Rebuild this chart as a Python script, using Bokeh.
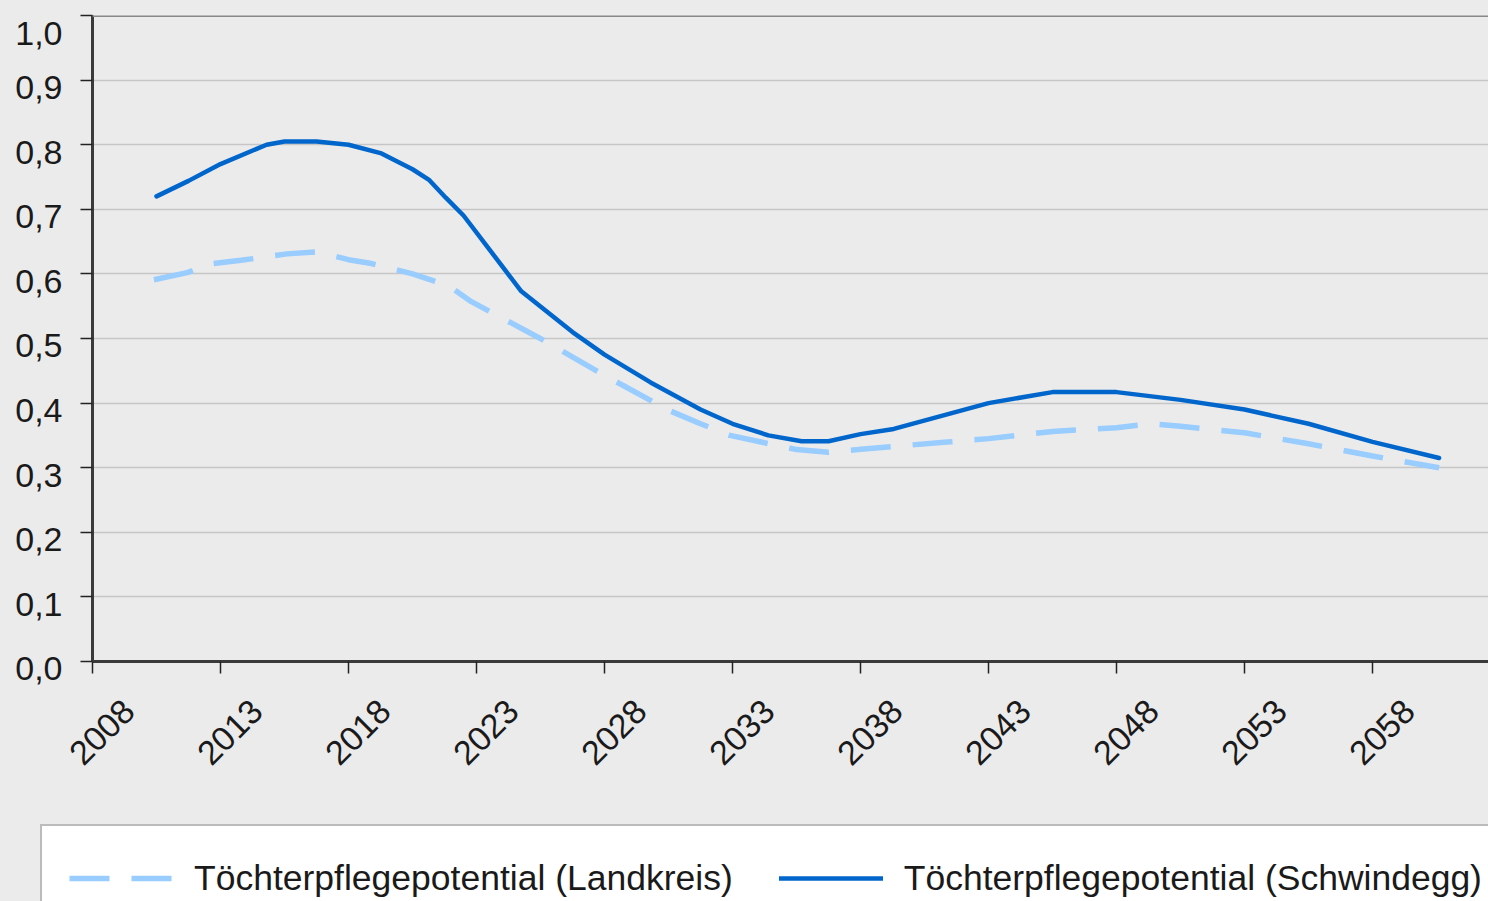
import math
from bokeh.plotting import figure
from bokeh.models import (FixedTicker, CustomJSTickFormatter, LinearAxis, Span,
                          Legend, LegendItem, Range1d)
from bokeh.embed import file_html
from bokeh.resources import INLINE

# ---- data ----
years_schwindegg = [2010.0, 2011.25, 2012.5, 2014.3, 2015.0, 2016.25, 2017.5, 2018.75,
                    2020.0, 2020.66, 2021.3, 2022.0, 2024.25, 2026.25, 2027.5, 2029.3,
                    2031.25, 2032.5, 2033.9, 2035.2, 2036.25, 2037.5, 2038.8, 2042.5,
                    2045.0, 2047.5, 2050.0, 2052.5, 2055.0, 2057.5, 2060.1]
vals_schwindegg = [0.720, 0.744, 0.770, 0.800, 0.805, 0.805, 0.800, 0.787,
                   0.762, 0.745, 0.718, 0.690, 0.573, 0.510, 0.475, 0.432,
                   0.390, 0.368, 0.350, 0.341, 0.341, 0.352, 0.360, 0.400,
                   0.417, 0.417, 0.405, 0.390, 0.368, 0.340, 0.315]

years_landkreis = [2009.9, 2011.2, 2012.2, 2013.3, 2015.1, 2016.3, 2017.5, 2018.4,
                   2020.0, 2021.4, 2022.3, 2024.9, 2027.5, 2030.0, 2031.25, 2032.4,
                   2035.0, 2036.25, 2037.4, 2038.8, 2041.0, 2042.5, 2045.0, 2047.5,
                   2048.8, 2050.0, 2052.5, 2055.0, 2057.5, 2060.1]
vals_landkreis = [0.591, 0.602, 0.616, 0.621, 0.631, 0.634, 0.622, 0.616,
                  0.600, 0.582, 0.557, 0.502, 0.443, 0.389, 0.368, 0.350,
                  0.328, 0.324, 0.328, 0.333, 0.340, 0.345, 0.356, 0.362,
                  0.368, 0.364, 0.354, 0.337, 0.318, 0.300]

tick_years = [2008, 2013, 2018, 2023, 2028, 2033, 2038, 2043, 2048, 2053, 2058]
y_ticks = [0.0, 0.1, 0.2, 0.3, 0.4, 0.5, 0.6, 0.7, 0.8, 0.9, 1.0]

name_landkreis = "Töchterpflegepotential (Landkreis)"
name_schwindegg = "Töchterpflegepotential (Schwindegg)"

FONT = "Liberation Sans"
BG = "#ebebeb"
XSHIFT = 1.42           # rotated labels sit to the right of their tick
COL_L = "#99ccff"
COL_S = "#0066cc"
DASH = "40 22"
W_L = 5.5
W_S = 4.5

MAIN_H = 800
LEG_H = 901 - MAIN_H

p = figure(width=1488, height=MAIN_H, output_backend="svg", toolbar_location=None,
           x_range=Range1d(2007.5, 2062.03), y_range=Range1d(0.0, 1.0),
           min_border_left=92, min_border_top=15, min_border_right=0,
           min_border_bottom=MAIN_H - 661, x_axis_location=None, y_axis_location=None)
p.background_fill_color = BG
p.border_fill_color = BG
p.outline_line_color = None

# y axis (labels sit a few pixels below their tick, as in the reference:
# an empty first line with a tight line height moves the label down)
yax = LinearAxis(ticker=FixedTicker(ticks=y_ticks),
                 formatter=CustomJSTickFormatter(
                     code="return '\\n' + tick.toFixed(1).replace('.', ',');"))
yax.axis_line_color = "#3a3a3a"
yax.axis_line_width = 3
yax.major_tick_line_color = "#222222"
yax.major_tick_line_width = 1.5
yax.major_tick_out = 12
yax.major_tick_in = 0
yax.minor_tick_line_color = None
yax.major_label_standoff = 18
yax.major_label_text_font = FONT
yax.major_label_text_font_size = "34px"
yax.major_label_text_line_height = 0.36
yax.major_label_text_color = "#1a1a1a"
p.add_layout(yax, "left")

# x axis: tick marks at category boundaries
boundaries = [y - 0.5 for y in tick_years]
xax = LinearAxis(ticker=FixedTicker(ticks=boundaries),
                 formatter=CustomJSTickFormatter(code="return '';"))
xax.axis_line_color = "#3a3a3a"
xax.axis_line_width = 3
xax.major_tick_line_color = "#222222"
xax.major_tick_line_width = 1.5
xax.major_tick_out = 12
xax.major_tick_in = 0
xax.minor_tick_line_color = None
xax.major_label_standoff = 0
xax.major_label_text_font_size = "1px"
p.add_layout(xax, "below")

# x axis labels (rotated)
label_pos = [y - 0.5 + XSHIFT for y in tick_years]
xlab = LinearAxis(ticker=FixedTicker(ticks=label_pos),
                  formatter=CustomJSTickFormatter(
                      code="return String(Math.round(tick + 0.5 - %r));" % XSHIFT))
xlab.axis_line_color = None
xlab.major_tick_line_color = None
xlab.minor_tick_line_color = None
xlab.major_tick_out = 0
xlab.major_tick_in = 0
xlab.major_label_orientation = math.pi / 4
xlab.major_label_standoff = 32
xlab.major_label_text_font = FONT
xlab.major_label_text_font_size = "34px"
xlab.major_label_text_color = "#1a1a1a"
p.add_layout(xlab, "below")

p.xgrid.visible = False
p.ygrid.ticker = FixedTicker(ticks=y_ticks)
p.ygrid.grid_line_color = "#c6c6c6"
p.ygrid.grid_line_width = 1.5

p.add_layout(Span(location=1.0, dimension="width", line_color="#888888", line_width=3))

p.line(years_landkreis, vals_landkreis, line_color=COL_L, line_width=W_L, line_dash=DASH)
p.line(years_schwindegg, vals_schwindegg, line_color=COL_S, line_width=W_S,
       line_cap="round", line_join="round")

# ---- legend strip below the chart (separate root, so its frame spans the full width) ----
p2 = figure(width=1488, height=LEG_H, output_backend="svg", toolbar_location=None,
            x_range=Range1d(0, 1), y_range=Range1d(0, 1),
            min_border=0, x_axis_location=None, y_axis_location=None)
p2.background_fill_color = BG
p2.border_fill_color = BG
p2.outline_line_color = None
p2.grid.visible = False
# same series, outside this strip's visible range: only their legend samples show
lg_l = p2.line(years_landkreis, vals_landkreis, line_color=COL_L, line_width=W_L, line_dash=DASH)
lg_s = p2.line(years_schwindegg, vals_schwindegg, line_color=COL_S, line_width=W_S,
               line_cap="round")

legend = Legend(items=[LegendItem(label=name_landkreis, renderers=[lg_l]),
                       LegendItem(label=name_schwindegg, renderers=[lg_s])],
                orientation="horizontal", location=(40, LEG_H - 28 - 104))
legend.margin = 0
legend.background_fill_color = "white"
legend.background_fill_alpha = 1.0
legend.border_line_color = "#777777"
legend.border_line_width = 2
legend.padding = 27
legend.spacing = 46
legend.glyph_width = 104
legend.glyph_height = 50
legend.label_height = 50
legend.label_standoff = 21
legend.label_text_font = FONT
legend.label_text_font_size = "35.5px"
legend.label_text_color = "#1a1a1a"
p2.add_layout(legend, "center")

html = file_html([p, p2], INLINE)
html = html.replace("</head>", "<style>body{background:#ebebeb;}</style></head>", 1)
open("out.html", "w").write(html)
